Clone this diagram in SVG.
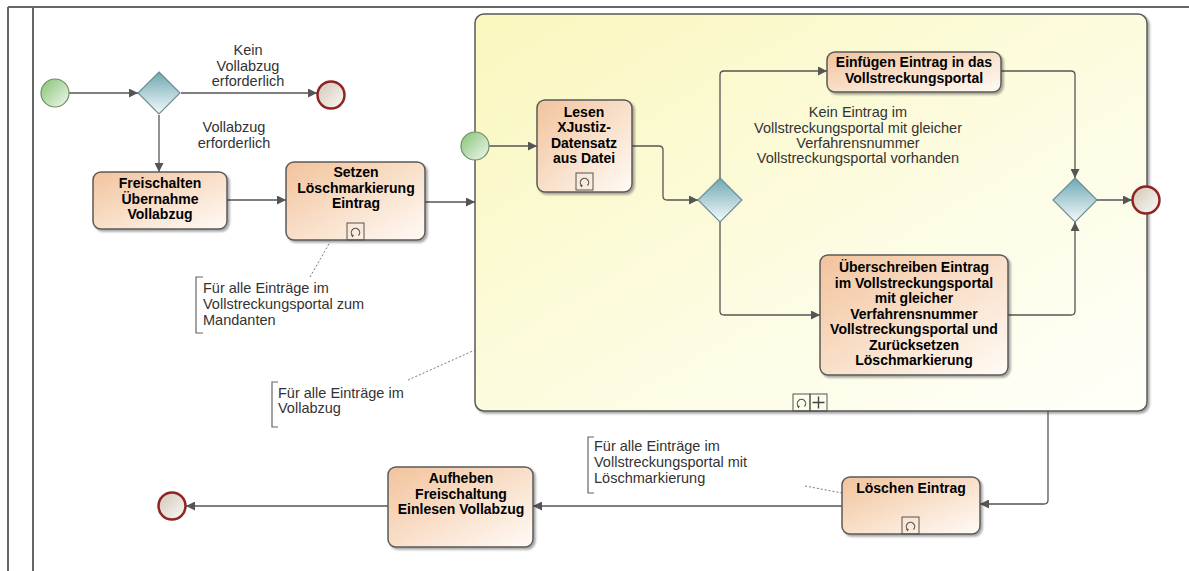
<svg xmlns="http://www.w3.org/2000/svg" width="1189" height="571" viewBox="0 0 1189 571">
  <defs>
    <linearGradient id="gTask" x1="0" y1="0" x2="1" y2="1">
      <stop offset="0" stop-color="#f2c39c"/>
      <stop offset="1" stop-color="#fffbf6"/>
    </linearGradient>
    <linearGradient id="gSub" x1="0" y1="0" x2="1" y2="1">
      <stop offset="0" stop-color="#f9f7bd"/>
      <stop offset="0.6" stop-color="#fdfce4"/>
      <stop offset="1" stop-color="#fffffa"/>
    </linearGradient>
    <linearGradient id="gGate" x1="0" y1="0" x2="0" y2="1">
      <stop offset="0" stop-color="#6fa8b3"/>
      <stop offset="1" stop-color="#f4fafb"/>
    </linearGradient>
    <linearGradient id="gStart" x1="0" y1="0" x2="1" y2="1">
      <stop offset="0" stop-color="#86c275"/>
      <stop offset="1" stop-color="#f2f8ef"/>
    </linearGradient>
    <linearGradient id="gEnd" x1="0" y1="0" x2="1" y2="1">
      <stop offset="0" stop-color="#d2c6b6"/>
      <stop offset="1" stop-color="#fbfaf8"/>
    </linearGradient>
    <filter id="shadow" x="-10%" y="-10%" width="130%" height="130%">
      <feDropShadow dx="2" dy="2" stdDeviation="1.2" flood-color="#000" flood-opacity="0.35"/>
    </filter>
    <marker id="arrow" viewBox="0 0 10 10" refX="10" refY="5" markerWidth="9" markerHeight="9" markerUnits="userSpaceOnUse" orient="auto">
      <path d="M0,0 L10,5 L0,10 z" fill="#555"/>
    </marker>
    <!-- loop marker glyph, 17x17 box -->
    <g id="loop">
      <rect x="0" y="0" width="17" height="17" fill="none" stroke="#555" stroke-width="1"/>
      <path d="M5.5,12.5 A4.2,4.2 0 1 1 11.5,12.5" fill="none" stroke="#555" stroke-width="1.2"/>
      <path d="M4,12 L7,12 L5.5,14.5 z" fill="#555"/>
    </g>
  </defs>
  <style>
    .task { fill: url(#gTask); stroke: #5a5a5a; stroke-width: 1.5; filter: url(#shadow); }
    .gate { fill: url(#gGate); stroke: #6b8d93; stroke-width: 1.2; }
    .start { fill: url(#gStart); stroke: #6f8f66; stroke-width: 1.2; }
    .end { fill: url(#gEnd); stroke: #8e2424; stroke-width: 2.5; }
    .flow { fill: none; stroke: #555; stroke-width: 1.3; marker-end: url(#arrow); }
    .assoc { fill: none; stroke: #777; stroke-width: 1; stroke-dasharray: 2 2; }
    .bracket { fill: none; stroke: #666; stroke-width: 1.2; }
    .pool { fill: none; stroke: #666; stroke-width: 2; }
    .tb { font-family: "Liberation Sans", Arial, sans-serif; font-size: 14px; font-weight: bold; fill: #000; text-anchor: middle; }
    .lbl { font-family: "Liberation Sans", Arial, sans-serif; font-size: 14.5px; fill: #333; }
    .mid { text-anchor: middle; }
  </style>

  <!-- pool and lane borders -->
  <g id="pool">
    <line class="pool" x1="8" y1="7" x2="1189" y2="7"/>
    <line class="pool" x1="8" y1="7" x2="8" y2="571"/>
    <line class="pool" x1="33" y1="7" x2="33" y2="571"/>
  </g>

  <!-- expanded looping subprocess -->
  <g id="subprocess">
    <rect x="475" y="14" width="672" height="397" rx="9" fill="url(#gSub)" stroke="#5a5a5a" stroke-width="1.5" filter="url(#shadow)"/>
    <use href="#loop" x="793" y="394"/>
    <rect x="810" y="394" width="17" height="17" fill="none" stroke="#555" stroke-width="1"/>
    <path d="M818.5,396.5 V408.5 M812.5,402.5 H824.5" stroke="#444" stroke-width="1.4"/>
  </g>

  <!-- sequence flows -->
  <g id="connectors">
    <path class="flow" d="M69,93 H138"/>
    <path class="flow" d="M181,93 H317"/>
    <path class="flow" d="M159,115 V172"/>
    <path class="flow" d="M227,200 H286"/>
    <path class="flow" d="M425,202 H475"/>
    <path class="flow" d="M489,146 H537"/>
    <path class="flow" d="M632,146 H659 Q663,146 663,150 V196 Q663,200 667,200 H698"/>
    <path class="flow" d="M720,178 V75 Q720,71 724,71 H827"/>
    <path class="flow" d="M720,222 V311 Q720,315 724,315 H820"/>
    <path class="flow" d="M1001,71 H1071 Q1075,71 1075,75 V178"/>
    <path class="flow" d="M1008,315 H1071 Q1075,315 1075,311 V222"/>
    <path class="flow" d="M1097,200 H1132"/>
    <path class="flow" d="M1048,411 V500 Q1048,504 1044,504 H980"/>
    <path class="flow" d="M842,506 H533"/>
    <path class="flow" d="M388,506 H186"/>
    <!-- annotation associations -->
    <path class="assoc" d="M310,277 L330,242"/>
    <path class="assoc" d="M408,380 L475,350"/>
    <path class="assoc" d="M805,486 L842,493"/>
  </g>

  <!-- flow labels -->
  <g id="labels">
    <text class="lbl mid" x="248" y="55">Kein</text>
    <text class="lbl mid" x="248" y="71">Vollabzug</text>
    <text class="lbl mid" x="248" y="86">erforderlich</text>
    <text class="lbl mid" x="234" y="132">Vollabzug</text>
    <text class="lbl mid" x="234" y="148">erforderlich</text>
    <text class="lbl mid" x="858" y="117">Kein Eintrag im</text>
    <text class="lbl mid" x="858" y="133">Vollstreckungsportal mit gleicher</text>
    <text class="lbl mid" x="858" y="148">Verfahrensnummer</text>
    <text class="lbl mid" x="858" y="163">Vollstreckungsportal vorhanden</text>
  </g>

  <g id="start1"><circle class="start" cx="55" cy="93" r="14"/></g>
  <g id="gateway1"><path class="gate" d="M159,72 L180,93 L159,114 L138,93 z"/></g>
  <g id="end1"><circle class="end" cx="331" cy="95" r="13.5"/></g>

  <g id="taskFreischalten">
    <rect class="task" x="93" y="172" width="134" height="57" rx="8"/>
    <text class="tb" x="160" y="188">Freischalten</text>
    <text class="tb" x="160" y="204">Übernahme</text>
    <text class="tb" x="160" y="219">Vollabzug</text>
  </g>

  <g id="taskSetzen">
    <rect class="task" x="286" y="162" width="139" height="78" rx="8"/>
    <text class="tb" x="356" y="177">Setzen</text>
    <text class="tb" x="356" y="193">Löschmarkierung</text>
    <text class="tb" x="356" y="208">Eintrag</text>
    <use href="#loop" x="347" y="223"/>
  </g>

  <g id="start2"><circle class="start" cx="475" cy="146" r="14"/></g>

  <g id="taskLesen">
    <rect class="task" x="537" y="100" width="95" height="92" rx="8"/>
    <text class="tb" x="584" y="117">Lesen</text>
    <text class="tb" x="584" y="132">XJustiz-</text>
    <text class="tb" x="584" y="148">Datensatz</text>
    <text class="tb" x="584" y="163">aus Datei</text>
    <use href="#loop" x="576" y="173"/>
  </g>

  <g id="gateway2"><path class="gate" d="M720,178 L742,200 L720,222 L698,200 z"/></g>

  <g id="taskEinfuegen">
    <rect class="task" x="827" y="52" width="174" height="40" rx="8"/>
    <text class="tb" x="914" y="67">Einfügen Eintrag in das</text>
    <text class="tb" x="914" y="83">Vollstreckungsportal</text>
  </g>

  <g id="taskUeberschreiben">
    <rect class="task" x="820" y="255" width="188" height="120" rx="8"/>
    <text class="tb" x="914" y="272">Überschreiben Eintrag</text>
    <text class="tb" x="914" y="288">im Vollstreckungsportal</text>
    <text class="tb" x="914" y="303">mit gleicher</text>
    <text class="tb" x="914" y="319">Verfahrensnummer</text>
    <text class="tb" x="914" y="334">Vollstreckungsportal und</text>
    <text class="tb" x="914" y="350">Zurücksetzen</text>
    <text class="tb" x="914" y="365">Löschmarkierung</text>
  </g>

  <g id="gateway3"><path class="gate" d="M1075,178 L1097,200 L1075,222 L1053,200 z"/></g>
  <g id="end2"><circle class="end" cx="1146" cy="200" r="13.5"/></g>

  <g id="taskLoeschen">
    <rect class="task" x="842" y="477" width="138" height="57" rx="8"/>
    <text class="tb" x="911" y="493">Löschen Eintrag</text>
    <use href="#loop" x="902" y="517"/>
  </g>

  <g id="taskAufheben">
    <rect class="task" x="388" y="467" width="145" height="80" rx="8"/>
    <text class="tb" x="461" y="483">Aufheben</text>
    <text class="tb" x="461" y="499">Freischaltung</text>
    <text class="tb" x="461" y="514">Einlesen Vollabzug</text>
  </g>

  <g id="end3"><circle class="end" cx="172" cy="506" r="13.5"/></g>

  <!-- text annotations -->
  <g id="note1">
    <path class="bracket" d="M203,277 H196 V333 H203"/>
    <text class="lbl" x="203" y="293">Für alle Einträge im</text>
    <text class="lbl" x="203" y="309">Vollstreckungsportal zum</text>
    <text class="lbl" x="203" y="325">Mandanten</text>
  </g>
  <g id="note2">
    <path class="bracket" d="M278,382 H272 V427 H278"/>
    <text class="lbl" x="278" y="398">Für alle Einträge im</text>
    <text class="lbl" x="278" y="413">Vollabzug</text>
  </g>
  <g id="note3">
    <path class="bracket" d="M594,437 H588 V493 H594"/>
    <text class="lbl" x="594" y="451">Für alle Einträge im</text>
    <text class="lbl" x="594" y="467">Vollstreckungsportal mit</text>
    <text class="lbl" x="594" y="483">Löschmarkierung</text>
  </g>
</svg>
